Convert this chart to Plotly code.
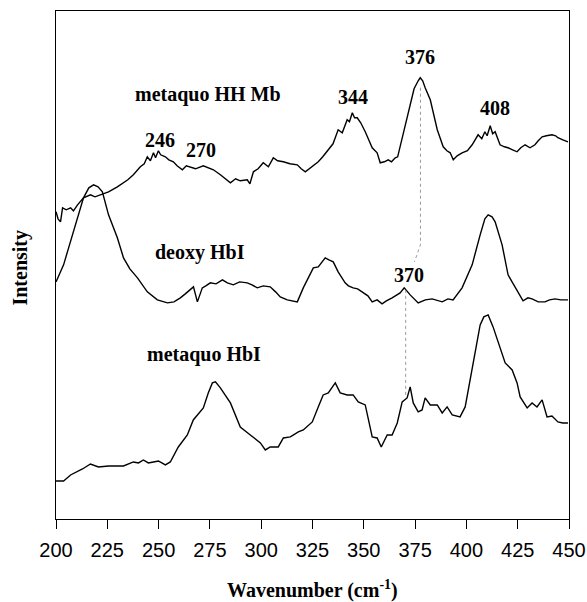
import plotly.graph_objects as go

# ---- data (wavenumber in cm^-1, intensity in arbitrary units) ----
hhmb_wn = [200, 201, 202.2, 203.2, 205, 207.1, 208.5, 210.5, 213.4, 216.8, 219, 221.7, 225.6, 229.9,
           232.9, 235, 237.7, 241.1, 243, 244.5, 246, 247.5, 248.5, 249.9, 251, 253.3, 255, 257.2,
           259, 261.6, 263.5, 265.5, 268, 271.8, 274, 276.7, 280.1, 282.5, 285.0, 287.5, 289.8, 293.2,
           294.5, 296.2, 298.5, 301.0, 303.5, 305.9, 308, 310.8, 314, 317.6, 319.5, 321.5, 323.9,
           327.8, 330, 332.7, 335, 337.5, 339.5, 341.9, 343, 344.4, 345.5, 346.8, 348.5, 350.7,
           354.1, 356.5, 358.0, 360, 361.9, 363.5, 365.3, 366.5, 368.7, 371.6, 374.5, 376.5, 377.5,
           378.7, 379.9, 382.4, 385.8, 388.7, 390.5, 392.1, 393.6, 395.5, 397.9, 400.5, 402.8, 405.7,
           407.5, 409.0, 410.1, 411.6, 412.8, 414.0, 416.4, 418.5, 420.3, 422.5, 424.7, 426.5, 428.6,
           431, 433.4, 435, 436.9, 439, 441.7, 443.5, 444.6, 447, 449.5]
hhmb_int = [307, 300, 297, 311, 309, 311, 308, 314, 321, 324, 322, 324, 327, 332,
            336, 339, 344, 352, 355, 362, 358, 366, 361, 368, 364, 362, 359, 357,
            353, 349, 353, 352, 350, 353, 351, 349, 344, 340, 336, 340, 338, 339,
            335, 347, 350, 356, 352, 361, 358, 357, 355, 354, 350, 347, 351,
            357, 362, 369, 375, 389, 386, 399, 397, 406, 401, 401, 396, 387,
            371, 366, 356, 357, 359, 357, 361, 362, 381, 404, 430, 438, 441,
            438, 431, 419, 389, 372, 368, 366, 359, 363, 366, 368, 374, 384,
            380, 387, 383, 393, 385, 387, 374, 372, 371, 369, 367, 371, 374,
            371, 374, 378, 382, 383, 384, 383, 381, 379, 377]

deoxy_wn = [200, 203.7, 206, 208.5, 211, 213.4, 216, 218.3, 220.5, 222.6, 225.6, 229.9, 232.9, 236,
            239.7, 244.5, 249.4, 254.3, 257.5, 260.6, 263, 265.5, 267.0, 268.9, 271.3, 273,
            275.2, 278, 281.1, 283.5, 286.4, 289.5, 293.2, 295.5, 298.1, 301, 304.4, 307, 309.3,
            312.7, 315, 317.6, 320.5, 323.9, 325.4, 327.8, 329.5, 331.2, 333, 335.1, 337.5, 340.9,
            342.5, 344.8, 347, 349.2, 352, 354.1, 356.5, 358.9, 361, 363.8, 367.7, 369.7, 372.6,
            376.5, 380, 383.3, 386, 388.2, 391, 393.5, 397.9, 402.8, 406.7, 409, 410.6, 412.5,
            414.0, 417.4, 420.3, 423.7, 427.6, 430, 432.0, 435, 438.3, 440.5, 443.2, 446, 449.5]
deoxy_int = [237, 254, 270, 287, 305, 321, 331, 334, 332, 327, 304, 281, 261, 250,
             241, 227, 219, 216, 217, 221, 225, 229, 232, 217, 231, 233,
             236, 235, 239, 236, 234, 237, 236, 234, 231, 233, 232, 227, 222,
             219, 218, 217, 231, 244, 251, 252, 256, 261, 259, 257, 247, 236,
             233, 231, 230, 227, 223, 217, 219, 215, 218, 221, 226, 231, 224,
             216, 219, 220, 218, 217, 220, 219, 231, 254, 284, 300, 304, 302,
             297, 274, 244, 232, 218, 221, 220, 217, 217, 219, 220, 219, 219]

metHbI_wn = [200, 203.7, 207.1, 212.9, 216.8, 220.7, 225.6, 232.9, 237.7, 240.2, 242.6, 245, 247.5,
             249.9, 253.3, 255.7, 259.6, 264.0, 266.9, 271.8, 274.2, 276.2, 277.7, 280.1, 285.0,
             289.8, 294.7, 299.6, 302.0, 304.4, 308.3, 310.8, 314.2, 318.1, 320.5, 324.9, 327.8,
             330.2, 332.7, 336.1, 338.5, 341.9, 344.8, 347.3, 350.7, 352.1, 354.1, 356.5, 358.5,
             361.4, 363.8, 366.3, 368.7, 371.1, 372.6, 374.1, 376.5, 378.4, 379.9, 382.4, 385.8,
             388.2, 390.6, 393.1, 396.9, 399.4, 401.8, 404.2, 406.7, 408.5, 410.6, 413.0, 415.4,
             418.9, 422.3, 424.7, 426.2, 429.6, 432.0, 434.4, 436.9, 439.3, 441.7, 444.6, 447, 449.5]
metHbI_int = [38, 38, 44, 50, 55, 52, 53, 53, 57, 56, 59, 56, 57,
              58, 54, 57, 72, 84, 99, 111, 126, 136, 137, 131, 116,
              92, 84, 76, 69, 72, 72, 81, 82, 87, 89, 97, 112,
              124, 126, 136, 126, 124, 124, 117, 114, 102, 82, 81, 72,
              84, 84, 96, 117, 121, 132, 116, 107, 109, 121, 114, 114,
              106, 112, 104, 102, 112, 139, 166, 194, 202, 204, 192, 177,
              156, 149, 136, 122, 111, 116, 112, 119, 102, 103, 97, 96, 96]

# dotted guide lines linking the shifted band (376 -> 370)
guide1_wn = [377.6, 377.6, 374.7]
guide1_int = [431, 274, 257]
guide2_wn = [370.4, 370.4]
guide2_int = [229, 122]

curve_labels = ["metaquo HH Mb", "deoxy HbI", "metaquo HbI"]
curve_label_wn = [274, 270, 272]
curve_label_int = [424, 266, 164]

peak_labels = ["246", "270", "344", "376", "408", "370"]
peak_label_wn = [250.5, 270.5, 344.5, 377.5, 414, 372]
peak_label_int = [379, 369, 422, 462, 411, 244]

x_ticks = [200, 225, 250, 275, 300, 325, 350, 375, 400, 425, 450]
x_title = "Wavenumber (cm<sup>-1</sup>)"
y_title = "Intensity"

SERIF = "Liberation Serif, Times New Roman, serif"

fig = go.Figure()
line_style = dict(color="black", width=1.4)
for wn, it in [(hhmb_wn, hhmb_int), (deoxy_wn, deoxy_int), (metHbI_wn, metHbI_int)]:
    fig.add_trace(go.Scatter(x=wn, y=it, mode="lines", line=line_style, showlegend=False,
                             hoverinfo="skip"))
for wn, it in [(guide1_wn, guide1_int), (guide2_wn, guide2_int)]:
    fig.add_trace(go.Scatter(x=wn, y=it, mode="lines",
                             line=dict(color="#999999", width=1, dash="dot"),
                             showlegend=False, hoverinfo="skip"))

serif_bold = dict(family=SERIF, size=20, color="black")
for t, x, y in zip(curve_labels + peak_labels, curve_label_wn + peak_label_wn,
                   curve_label_int + peak_label_int):
    fig.add_annotation(x=x, y=y, text="<b>%s</b>" % t, showarrow=False, font=serif_bold,
                       xanchor="center", yanchor="middle")

# axis titles
fig.add_annotation(xref="paper", yref="paper", x=0.5, y=0, yshift=-70, text="<b>%s</b>" % x_title,
                   showarrow=False, font=serif_bold, xanchor="center", yanchor="middle")
fig.add_annotation(xref="paper", yref="paper", x=0, y=0.494, xshift=-35.5,
                   text="<b>%s</b>" % y_title, textangle=-90,
                   showarrow=False, font=serif_bold, xanchor="center", yanchor="middle")

fig.update_layout(
    width=587, height=602,
    margin=dict(l=55.5, r=18, t=11, b=83.3, autoexpand=False),
    paper_bgcolor="white", plot_bgcolor="white",
    xaxis=dict(range=[200, 450], tickvals=x_ticks, ticks="outside", ticklen=9, tickwidth=1,
               tickcolor="black", showline=True, linecolor="black", linewidth=1, mirror=True,
               showgrid=False, zeroline=False, automargin=False, ticklabelstandoff=4,
               tickfont=dict(family="Liberation Sans, Arial, sans-serif", size=20, color="black")),
    yaxis=dict(range=[0, 507.7], showticklabels=False, ticks="", showline=True,
               linecolor="black", linewidth=1, mirror=True, showgrid=False, zeroline=False,
               automargin=False),
)

fig.write_html("out.html")
